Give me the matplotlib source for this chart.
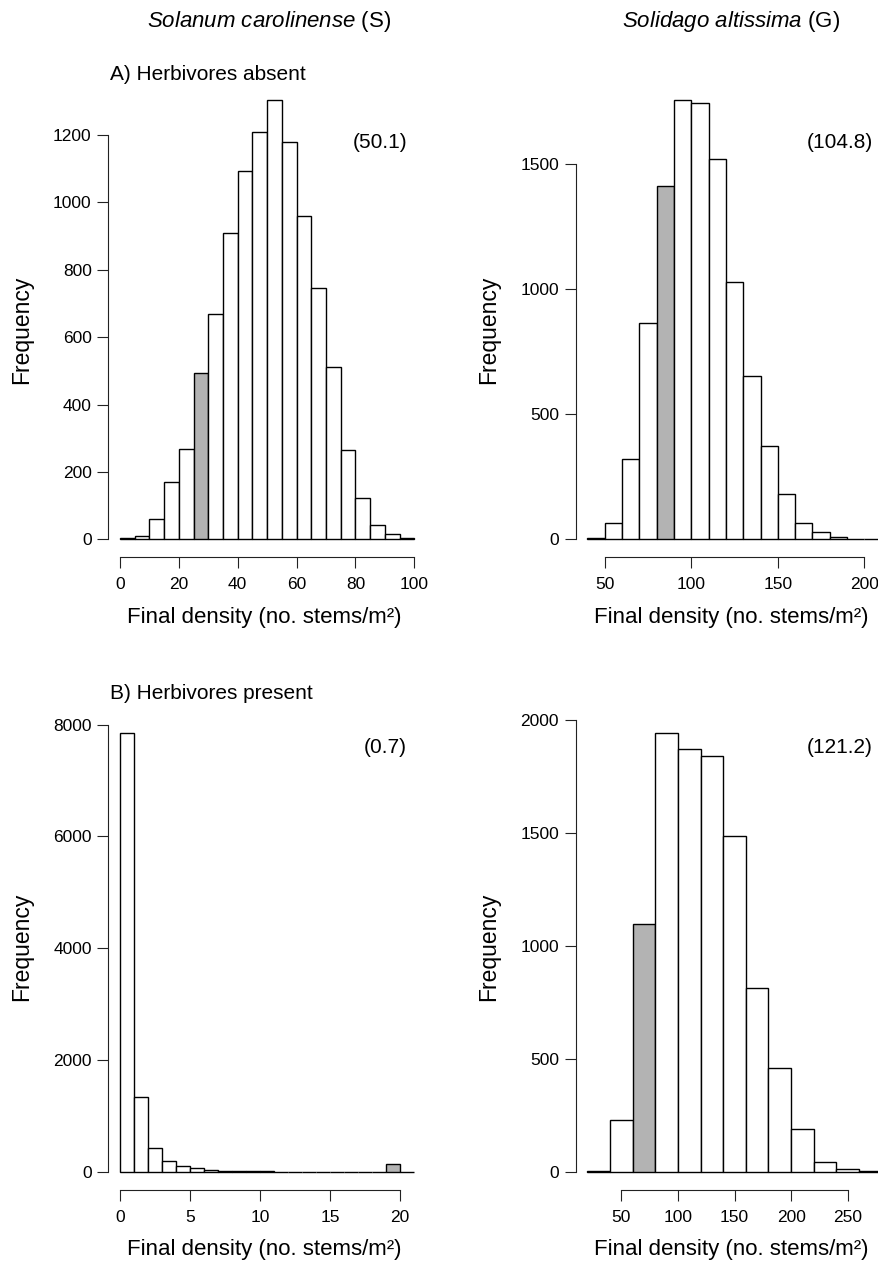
import matplotlib
matplotlib.use("Agg")
import matplotlib.pyplot as plt
import numpy as np

plt.rcParams['font.family'] = ['Liberation Sans', 'DejaVu Sans']
plt.rcParams['mathtext.fontset'] = 'custom'
plt.rcParams['mathtext.rm'] = 'Liberation Sans'
plt.rcParams['mathtext.it'] = 'Liberation Sans:italic'

#=================================================================================================================
# Data read off the figure : histogram breaks, counts and the bin that holds the observed density (shaded)
#=================================================================================================================
sc_absent_breaks = np.arange(0, 105, 5)
sc_absent_counts = [3, 10, 60, 170, 268, 493, 670, 908, 1093, 1210, 1305, 1180, 960, 745, 513, 265, 123, 42, 15, 3]
sc_absent_obs = 25
sc_absent_mean = "(50.1)"

sa_absent_breaks = np.arange(40, 220, 10)
sa_absent_counts = [5, 66, 323, 866, 1410, 1757, 1743, 1520, 1027, 654, 373, 181, 66, 30, 11, 3, 2]
sa_absent_obs = 80
sa_absent_mean = "(104.8)"

sc_present_breaks = np.arange(0, 22, 1)
sc_present_counts = [7850, 1347, 425, 191, 113, 64, 43, 20, 15, 12, 10, 3, 2, 1, 1, 1, 1, 1, 1, 142, 1]
sc_present_obs = 19
sc_present_mean = "(0.7)"

sa_present_breaks = np.arange(20, 300, 20)
sa_present_counts = [3, 228, 1095, 1942, 1872, 1840, 1486, 812, 461, 189, 46, 12, 3]
sa_present_obs = 60
sa_present_mean = "(121.2)"

W, H = 879, 1262
XLAB = 'Final density (no. stems/m\u00b2)'

fig = plt.figure(figsize=(W / 100, H / 100), dpi=100)


def draw_panel(left, top, height, breaks, counts, obs, xticks, yticks):
    """
        Draws one R-style histogram. left/top/height are in pixels.
    """
    width = 317.7
    ax = fig.add_axes([left / W, 1 - (top + height) / H, width / W, height / H])
    colors = ['#b3b3b3' if b == obs else 'white' for b in breaks[:-1]]
    ax.bar(breaks[:-1], counts, width=np.diff(breaks), align='edge',
           color=colors, edgecolor='black', linewidth=1.0)
    # R pads the ranges by 4%
    xr = breaks[-1] - breaks[0]
    ax.set_xlim(breaks[0] - 0.04 * xr, breaks[-1] + 0.04 * xr)
    ym = max(counts)
    ax.set_ylim(-0.04 * ym, 1.04 * ym)
    ax.set_xticks(xticks)
    ax.set_yticks(yticks)
    for s in ['top', 'right']:
        ax.spines[s].set_visible(False)
    ax.spines['left'].set_bounds(yticks[0], yticks[-1])
    ax.spines['bottom'].set_bounds(xticks[0], xticks[-1])
    for s in ['left', 'bottom']:
        ax.spines[s].set_linewidth(0.8)
        ax.spines[s].set_color('#222222')
    ax.tick_params(direction='out', length=8, width=0.8, color='#222222', labelsize=12.5)
    ax.tick_params(axis='x', pad=6.5)
    ax.tick_params(axis='y', pad=4)
    ax.set_facecolor('none')
    return ax


draw_panel(108.3, 82, 475, sc_absent_breaks, sc_absent_counts, sc_absent_obs,
           [0, 20, 40, 60, 80, 100], [0, 200, 400, 600, 800, 1000, 1200])
draw_panel(575.7, 82, 475, sa_absent_breaks, sa_absent_counts, sa_absent_obs,
           [50, 100, 150, 200], [0, 500, 1000, 1500])
draw_panel(108.3, 715.5, 474, sc_present_breaks, sc_present_counts, sc_present_obs,
           [0, 5, 10, 15, 20], [0, 2000, 4000, 6000, 8000])
draw_panel(575.7, 715.5, 474, sa_present_breaks, sa_present_counts, sa_present_obs,
           [50, 100, 150, 200, 250], [0, 500, 1000, 1500, 2000])

# mean densities, top right of every panel
for x, y, label in [(407, 143, sc_absent_mean), (873, 143, sa_absent_mean),
                    (407, 747, sc_present_mean), (873, 747, sa_present_mean)]:
    fig.text(x / W, 1 - y / H, label, ha='right', va='center', fontsize=15)

# column headers, panel letters and axis labels
fig.text(269 / W, 1 - 21.5 / H, r'$\mathit{Solanum\ carolinense}$ (S)', ha='center', va='center', fontsize=16)
fig.text(731 / W, 1 - 21.5 / H, r'$\mathit{Solidago\ altissima}$ (G)', ha='center', va='center', fontsize=16)
fig.text(110 / W, 1 - 74 / H, 'A) Herbivores absent', ha='left', va='center', fontsize=15)
fig.text(110 / W, 1 - 693 / H, 'B) Herbivores present', ha='left', va='center', fontsize=15)

for x in [264, 731]:
    fig.text(x / W, 1 - 617 / H, XLAB, ha='center', va='center', fontsize=16)
    fig.text(x / W, 1 - 1249 / H, XLAB, ha='center', va='center', fontsize=16)
for x, y in [(22, 330), (489, 330), (22, 947), (489, 947)]:
    fig.text(x / W, 1 - y / H, 'Frequency', ha='center', va='center', rotation=90, fontsize=16.5)

fig.savefig('out.png', dpi=100)
